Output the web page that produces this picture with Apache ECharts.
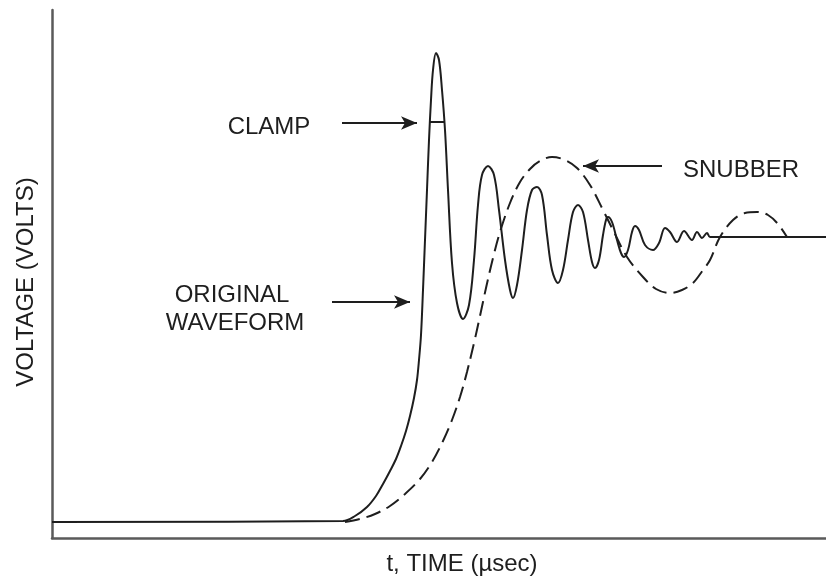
<!DOCTYPE html>
<html>
<head>
<meta charset="utf-8">
<script src="https://cdn.jsdelivr.net/npm/echarts@6/dist/echarts.min.js"></script>
<style>
html,body{margin:0;padding:0;background:#fff;}
#chart{width:826px;height:579px;}
</style>
</head>
<body>
<div id="chart"></div>
<script>
// Original waveform (time units, voltage units)
var solidT = [0,291,303,315,324,331,338,344,349,354,358,362,365,367,369,371,373,375,377,379,381,384,387,390,393,396,400,405,411,417,422,426,430,436,442,447,453,458,461,465,470,475,480,485,490,495,500,506,511,516,521,526,531,536,540,543,547,551,554,556,560,565,569,572,576,580,583,587,593,601,607,613,618,625,632,640,645,650,655,658,774];
var solidV = [16,17,22,31,42,54,67,79,92,107,122,140,158,178,203,248,298,348,398,438,468,485,478,448,408,348,275,235,219,233,278,333,363,372,363,328,278,248,240,253,288,328,348,351,343,303,268,255,268,298,326,333,326,298,276,270,278,303,318,321,316,298,285,281,288,306,312,308,293,288,295,310,306,296,307,298,306,300,305,301,301];
// Snubbed waveform
var snubT = [293,308,323,338,353,368,380,391,400,408,415,422,428,434,441,448,458,468,478,488,500,513,525,538,551,561,575,591,604,618,630,641,651,658,668,681,693,705,716,726,735];
var snubV = [16,19,24,32,44,59,76,97,118,141,166,195,222,250,280,306,335,356,369,377,381,378,370,353,328,308,281,261,249,245,248,255,268,278,301,318,325,326,323,314,301];
// Clamp level
var clampT = [377,393];
var clampV = [416,416];

function zip(a,b){ return a.map(function(v,i){ return [v,b[i]]; }); }

var chart = echarts.init(document.getElementById('chart'), null, {renderer:'canvas'});
var ink = '#1e1e1e';
var font = '24px "Liberation Sans", Arial, sans-serif';

var arrowStyle = {
  silent: true,
  symbol: ['none','arrow'],
  symbolSize: [10,16],
  label: {show:false},
  lineStyle: {color: ink, width: 1.8, type: 'solid'},
  emphasis: {disabled: true},
  animation: false
};

chart.setOption({
  animation: false,
  grid: {left: 52, right: 0, top: 10, bottom: 41},
  xAxis: {
    type: 'value', min: 0, max: 774,
    axisLine: {show: true, onZero: false, lineStyle: {color: '#5a5a5a', width: 2.5}},
    axisTick: {show: false}, axisLabel: {show: false}, splitLine: {show: false}
  },
  yAxis: {
    type: 'value', min: 0, max: 528,
    axisLine: {show: true, onZero: false, lineStyle: {color: '#5a5a5a', width: 2.5}},
    axisTick: {show: false}, axisLabel: {show: false}, splitLine: {show: false}
  },
  series: [
    {
      name: 'Original', type: 'line', data: zip(solidT, solidV),
      showSymbol: false, smooth: 0.35,
      lineStyle: {color: ink, width: 2},
      markLine: Object.assign({}, arrowStyle, {
        data: [
          [{coord:[290,415]},{coord:[365,415]}],
          [{coord:[280,236]},{coord:[358,236]}],
          [{coord:[610,372]},{coord:[531,372]}]
        ]
      })
    },
    {
      name: 'Snubber', type: 'line', data: zip(snubT, snubV),
      showSymbol: false, smooth: 0.35,
      lineStyle: {color: ink, width: 2, type: [15,7]}
    },
    {
      name: 'Clamp', type: 'line', data: zip(clampT, clampV),
      showSymbol: false,
      lineStyle: {color: ink, width: 2}
    }
  ],
  graphic: [
    {type:'text', x:269, y:127, style:{text:'CLAMP', font:font, fill:ink, align:'center', verticalAlign:'middle'}},
    {type:'text', x:232, y:295, style:{text:'ORIGINAL', font:font, fill:ink, align:'center', verticalAlign:'middle'}},
    {type:'text', x:235, y:323, style:{text:'WAVEFORM', font:font, fill:ink, align:'center', verticalAlign:'middle'}},
    {type:'text', x:741, y:170, style:{text:'SNUBBER', font:font, fill:ink, align:'center', verticalAlign:'middle'}},
    {type:'text', x:26, y:282, rotation: Math.PI/2, style:{text:'VOLTAGE (VOLTS)', font:font, fill:ink, align:'center', verticalAlign:'middle'}},
    {type:'text', x:462, y:564, style:{text:'t, TIME (\u00b5sec)', font:font, fill:ink, align:'center', verticalAlign:'middle'}}
  ]
});
</script>
</body>
</html>
